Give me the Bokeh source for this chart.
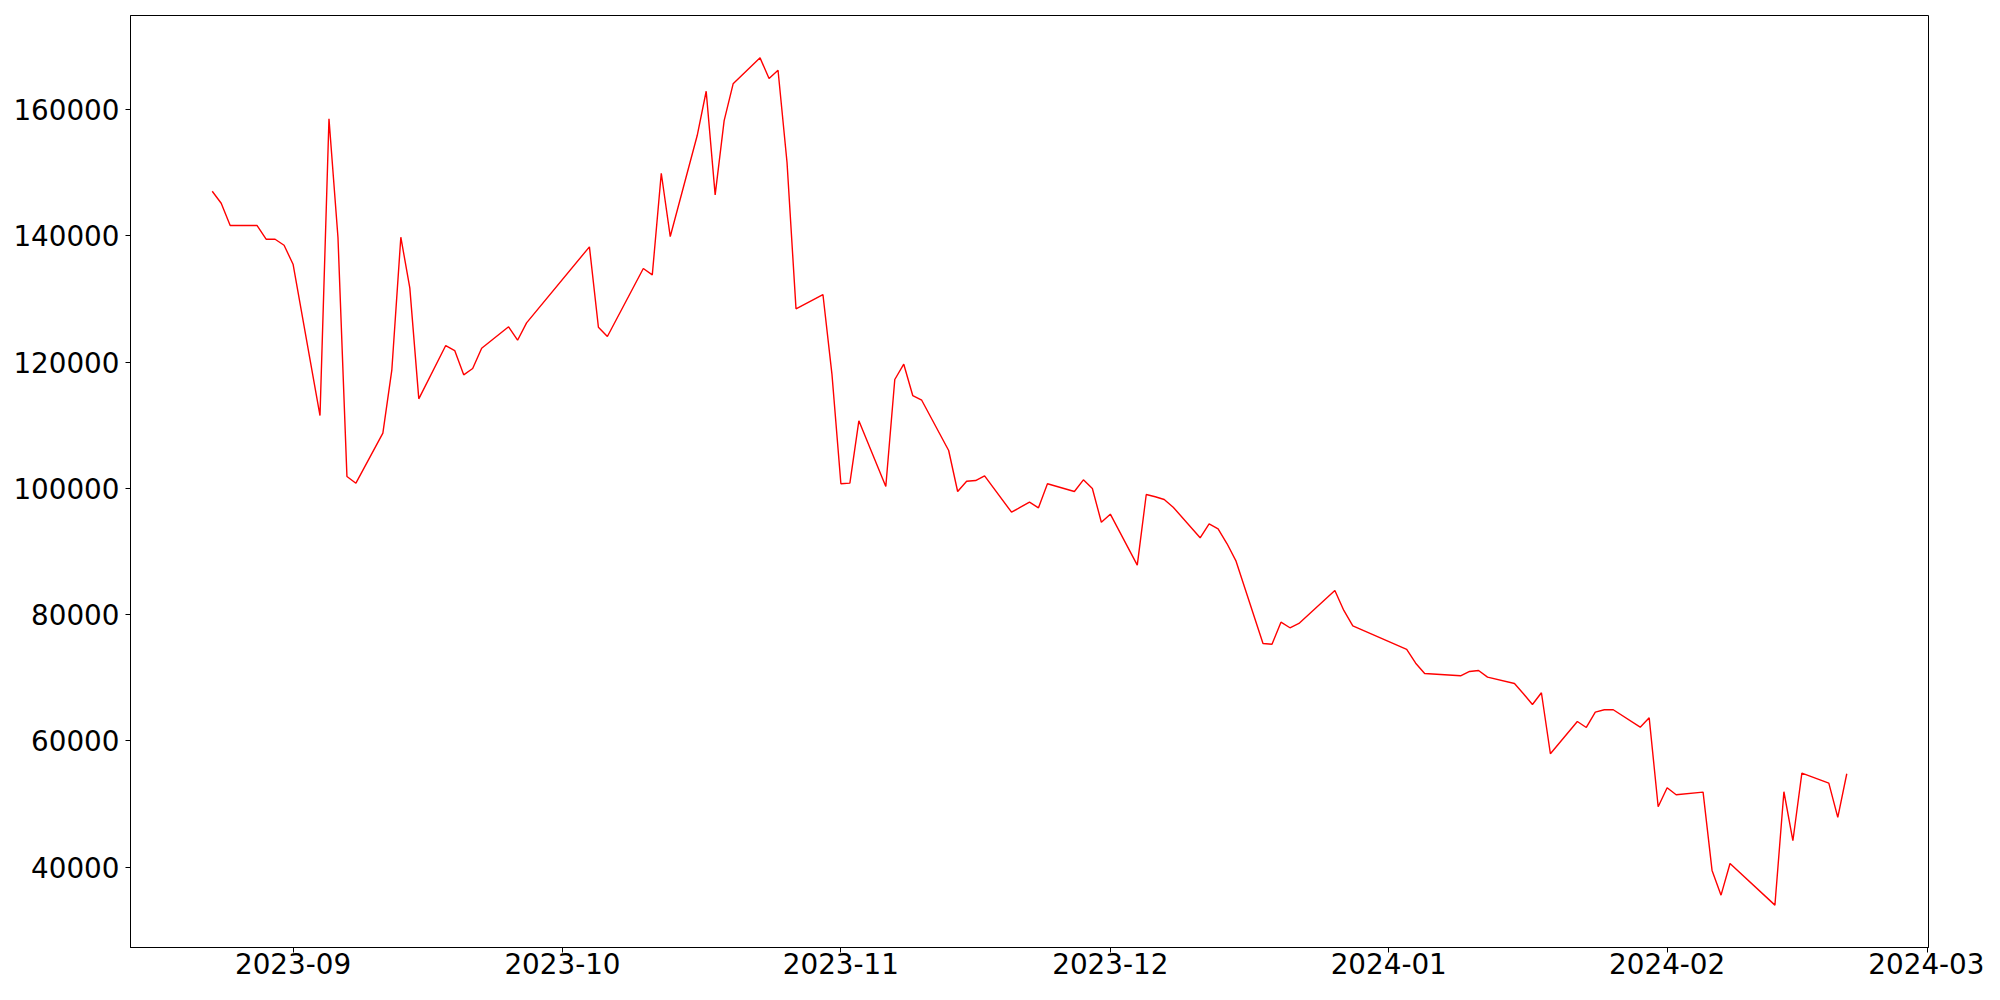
import pandas as pd
from bokeh.plotting import figure
from bokeh.models import Range1d, FixedTicker, DatetimeTickFormatter, NumeralTickFormatter
from bokeh.embed import file_html
from bokeh.resources import INLINE

dates = [
    "2023-08-23", "2023-08-24", "2023-08-25", "2023-08-28", "2023-08-29", "2023-08-30",
    "2023-08-31", "2023-09-01", "2023-09-04", "2023-09-05", "2023-09-06", "2023-09-07",
    "2023-09-08", "2023-09-11", "2023-09-12", "2023-09-13", "2023-09-14", "2023-09-15",
    "2023-09-18", "2023-09-19", "2023-09-20", "2023-09-21", "2023-09-22", "2023-09-25",
    "2023-09-26", "2023-09-27", "2023-10-04", "2023-10-05", "2023-10-06", "2023-10-10",
    "2023-10-11", "2023-10-12", "2023-10-13", "2023-10-16", "2023-10-17", "2023-10-18",
    "2023-10-19", "2023-10-20", "2023-10-23", "2023-10-24", "2023-10-25", "2023-10-26",
    "2023-10-27", "2023-10-30", "2023-10-31", "2023-11-01", "2023-11-02", "2023-11-03",
    "2023-11-06", "2023-11-07", "2023-11-08", "2023-11-09", "2023-11-10", "2023-11-13",
    "2023-11-14", "2023-11-15", "2023-11-16", "2023-11-17", "2023-11-20", "2023-11-21",
    "2023-11-22", "2023-11-23", "2023-11-24", "2023-11-27", "2023-11-28", "2023-11-29",
    "2023-11-30", "2023-12-01", "2023-12-04", "2023-12-05", "2023-12-06", "2023-12-07",
    "2023-12-08", "2023-12-11", "2023-12-12", "2023-12-13", "2023-12-14", "2023-12-15",
    "2023-12-18", "2023-12-19", "2023-12-20", "2023-12-21", "2023-12-22", "2023-12-26",
    "2023-12-27", "2023-12-28", "2024-01-03", "2024-01-04", "2024-01-05", "2024-01-09",
    "2024-01-10", "2024-01-11", "2024-01-12", "2024-01-15", "2024-01-16", "2024-01-17",
    "2024-01-18", "2024-01-19", "2024-01-22", "2024-01-23", "2024-01-24", "2024-01-25",
    "2024-01-26", "2024-01-29", "2024-01-30", "2024-01-31", "2024-02-01", "2024-02-02",
    "2024-02-05", "2024-02-06", "2024-02-07", "2024-02-08", "2024-02-13", "2024-02-14",
    "2024-02-15", "2024-02-16", "2024-02-19", "2024-02-20", "2024-02-21",
]

values = [
    147059, 145158, 141626, 141626, 139456, 139456,
    138505, 135496, 111530, 158527, 139773, 101867,
    100806, 108726, 118768, 139773, 131757, 114175,
    122618, 121826, 117976, 118974, 122190, 125580,
    123457, 126213, 138252, 125516, 124043, 134814,
    133816, 149910, 139883, 155882, 162899, 146489,
    158258, 164071, 168189, 164910, 166225, 151652,
    128431, 130696, 118135, 100711, 100817, 110690,
    100283, 117232, 119656, 114698, 113953, 105986,
    99491, 101123, 101232, 101978, 96212, 97004,
    97796, 96909, 100711, 99491, 101344, 99966,
    94628, 95896, 87817, 99016, 98652, 98224,
    97004, 92157, 94375, 93583, 91207, 88451,
    75414, 75303, 78788, 77901, 78582, 83810,
    80642, 78218, 74464, 72294, 70662, 70298,
    70979, 71138, 70076, 69078, 67447, 65752,
    67605, 57943, 63059, 62109, 64532, 64912,
    64912, 62156, 63645, 49548, 52557, 51448,
    51860, 39458, 35545, 40566, 33961, 51924,
    44162, 54870, 53286, 47853, 54775,
]

month_ticks = ["2023-09-01", "2023-10-01", "2023-11-01", "2023-12-01",
               "2024-01-01", "2024-02-01", "2024-03-01"]
y_ticks = [40000, 60000, 80000, 100000, 120000, 140000, 160000]

EPOCH = pd.Timestamp("1970-01-01")
ONE_MS = pd.Timedelta(milliseconds=1)
x_ms = [float((pd.Timestamp(d) - EPOCH) // ONE_MS) for d in dates]
xspan = x_ms[-1] - x_ms[0]
ymin, ymax = min(values), max(values)
yspan = ymax - ymin

FONT = "DejaVu Sans"
FS = "27.8px"

p = figure(
    x_axis_type="datetime",
    frame_width=1798, frame_height=932,
    min_border_left=130, min_border_right=56, min_border_top=15, min_border_bottom=37,
    x_range=Range1d(x_ms[0] - 0.05 * xspan, x_ms[-1] + 0.05 * xspan),
    y_range=Range1d(ymin - 0.05 * yspan, ymax + 0.05 * yspan),
    output_backend="svg", toolbar_location=None,
    background_fill_color="white", border_fill_color="white",
)

p.line(x_ms, values, line_color="#ff0000", line_width=1.4)

p.grid.visible = False
p.outline_line_color = "black"
p.outline_line_width = 1
p.outline_line_alpha = 1

tick_ms = [float((pd.Timestamp(t) - EPOCH) // ONE_MS) for t in month_ticks]
p.xaxis.ticker = FixedTicker(ticks=tick_ms)
fmt = "%Y-%m"
p.xaxis.formatter = DatetimeTickFormatter(
    microseconds=fmt, milliseconds=fmt, seconds=fmt, minsec=fmt, minutes=fmt,
    hourmin=fmt, hours=fmt, days=fmt, months=fmt, years=fmt,
)
p.yaxis.ticker = FixedTicker(ticks=y_ticks)
p.yaxis.formatter = NumeralTickFormatter(format="0")

for ax in (p.xaxis, p.yaxis):
    ax.axis_line_color = "black"
    ax.axis_line_width = 1
    ax.major_tick_line_color = "black"
    ax.major_tick_line_width = 1
    ax.major_tick_out = 5
    ax.major_tick_in = 0
    ax.minor_tick_line_color = None
    ax.major_label_text_font = FONT
    ax.major_label_text_font_size = FS
    ax.major_label_text_color = "black"

p.xaxis.major_label_standoff = 0
p.yaxis.major_label_standoff = 6

open("out.html", "w").write(file_html(p, INLINE))
